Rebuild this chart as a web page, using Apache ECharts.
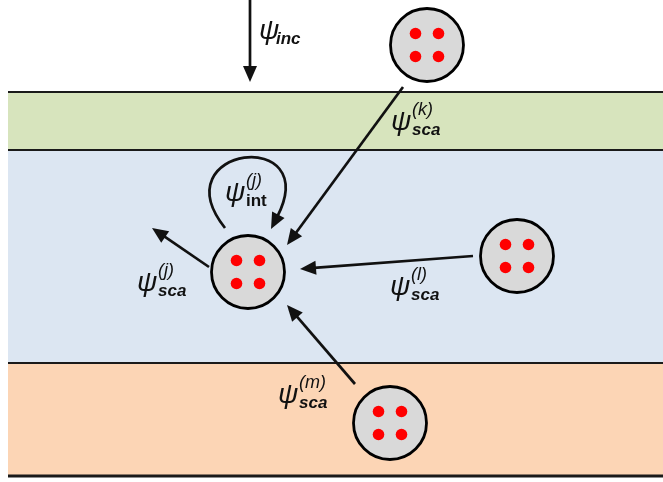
<!DOCTYPE html>
<html>
<head>
<meta charset="utf-8">
<script src="https://cdn.jsdelivr.net/npm/echarts@6/dist/echarts.min.js"></script>
<style>
html,body{margin:0;padding:0;background:#fff;}
#chart{width:663px;height:482px;}
</style>
</head>
<body>
<div id="chart"></div>
<script>
// ---- data (diagram coordinates, y grows downward) ----
const layerNames = ['coating', 'host', 'substrate'];
const layerLeft = [8, 8, 8];
const layerRight = [663, 663, 663];
const layerTop = [92, 150, 363];
const layerBottom = [150, 363, 476];
const boundaryY = [92, 150, 363, 476];

const particleNames = ['k', 'j', 'l', 'm'];
const particleX = [427, 248, 517, 390];
const particleY = [45, 272, 256, 423];

const arrowNames = ['inc', 'k', 'l', 'm', 'j'];
const arrowFromX = [250, 403, 473, 355, 209];
const arrowFromY = [0, 87, 256, 384, 267];
const arrowToX = [250, 287, 300, 287, 152];
const arrowToY = [82, 245, 269, 305, 228];

// self-interaction loop (cubic Bezier: start, control1, control2, end)
const loopX = [225, 160, 324, 271];
const loopY = [228, 146, 126, 229];

const labelX = [259, 391, 225, 137, 390, 278];
const labelY = [31, 122, 193, 283, 287, 395];
const labelSub = ['inc', 'sca', 'int', 'sca', 'sca', 'sca'];
const labelSup = ['', '(k)', '(j)', '(j)', '(l)', '(m)'];

// ---- styles ----
const layerColors = ['#d7e4bd', '#dce6f2', '#fcd5b5'];
const boundaryWidths = [2.2, 2.2, 2.2, 3];
const ink = '#111111';
const FONT = '"Liberation Sans", Arial, sans-serif';

const chart = echarts.init(document.getElementById('chart'), null, {renderer: 'canvas'});

function arrowRender(params, api) {
  const p1 = api.coord([api.value(0), api.value(1)]);
  const p2 = api.coord([api.value(2), api.value(3)]);
  const dx = p2[0] - p1[0], dy = p2[1] - p1[1];
  const len = Math.sqrt(dx * dx + dy * dy);
  const ux = dx / len, uy = dy / len;
  const L = 16, W = 14;
  const bx = p2[0] - ux * L, by = p2[1] - uy * L;
  const nx = -uy, ny = ux;
  return {
    type: 'group',
    children: [
      {type: 'line', shape: {x1: p1[0], y1: p1[1], x2: bx + ux * 2, y2: by + uy * 2},
        style: {stroke: ink, lineWidth: 2.7}},
      {type: 'polygon', shape: {points: [[p2[0], p2[1]], [bx + nx * W / 2, by + ny * W / 2], [bx - nx * W / 2, by - ny * W / 2]]},
        style: {fill: ink}}
    ]
  };
}

const option = {
  animation: false,
  backgroundColor: '#ffffff',
  grid: {left: 0, right: 0, top: 0, bottom: 0},
  xAxis: {type: 'value', min: 0, max: 663, show: false},
  yAxis: {type: 'value', min: 0, max: 482, inverse: true, show: false},
  series: [
    {
      type: 'custom', name: 'layers', silent: true,
      data: layerTop.map((t, i) => [layerLeft[i], t, layerRight[i], layerBottom[i], i]),
      renderItem: function (params, api) {
        const a = api.coord([api.value(0), api.value(1)]);
        const b = api.coord([api.value(2), api.value(3)]);
        return {type: 'rect', shape: {x: a[0], y: a[1], width: b[0] - a[0], height: b[1] - a[1]},
          style: {fill: layerColors[api.value(4)]}};
      }
    },
    {
      type: 'custom', name: 'boundaries', silent: true,
      data: boundaryY.map((y, i) => [layerLeft[0], y, layerRight[0], i]),
      renderItem: function (params, api) {
        const a = api.coord([api.value(0), api.value(1)]);
        const b = api.coord([api.value(2), api.value(1)]);
        return {type: 'line', shape: {x1: a[0], y1: a[1], x2: b[0], y2: b[1]},
          style: {stroke: '#1a1a1a', lineWidth: boundaryWidths[api.value(3)]}};
      }
    },
    {
      type: 'custom', name: 'arrows', silent: true,
      data: arrowNames.map((n, i) => [arrowFromX[i], arrowFromY[i], arrowToX[i], arrowToY[i]]),
      renderItem: arrowRender
    },
    {
      type: 'custom', name: 'loop', silent: true,
      data: [[loopX[0], loopY[0], loopX[1], loopY[1], loopX[2], loopY[2], loopX[3], loopY[3]]],
      renderItem: function (params, api) {
        const p0 = api.coord([api.value(0), api.value(1)]);
        const c1 = api.coord([api.value(2), api.value(3)]);
        const c2 = api.coord([api.value(4), api.value(5)]);
        const p3 = api.coord([api.value(6), api.value(7)]);
        const dx = p3[0] - c2[0], dy = p3[1] - c2[1];
        const len = Math.sqrt(dx * dx + dy * dy);
        const ux = dx / len, uy = dy / len, nx = -uy, ny = ux;
        const L = 16, W = 14;
        const bx = p3[0] - ux * L, by = p3[1] - uy * L;
        return {
          type: 'group',
          children: [
            {type: 'bezierCurve', shape: {x1: p0[0], y1: p0[1], cpx1: c1[0], cpy1: c1[1], cpx2: c2[0], cpy2: c2[1], x2: bx + ux * 3, y2: by + uy * 3},
              style: {stroke: ink, lineWidth: 2.7, fill: null}},
            {type: 'polygon', shape: {points: [[p3[0], p3[1]], [bx + nx * W / 2, by + ny * W / 2], [bx - nx * W / 2, by - ny * W / 2]]},
              style: {fill: ink}}
          ]
        };
      }
    },
    {
      type: 'custom', name: 'particles', silent: true,
      data: particleNames.map((n, i) => [particleX[i], particleY[i]]),
      renderItem: function (params, api) {
        const c = api.coord([api.value(0), api.value(1)]);
        const R = 36.5, d = 11.5, r = 5.8;
        const dots = [[-d, -d], [d, -d], [-d, d], [d, d]].map(o => ({
          type: 'circle', shape: {cx: c[0] + o[0], cy: c[1] + o[1], r: r}, style: {fill: '#ff0000'}
        }));
        return {
          type: 'group',
          children: [{type: 'circle', shape: {cx: c[0], cy: c[1], r: R}, style: {fill: '#d9d9d9', stroke: '#000', lineWidth: 2.8}}].concat(dots)
        };
      }
    },
    {
      type: 'custom', name: 'labels', silent: true,
      data: labelX.map((x, i) => [x, labelY[i], i]),
      renderItem: function (params, api) {
        const p = api.coord([api.value(0), api.value(1)]);
        const i = api.value(2);
        const isInt = labelSub[i] === 'int';
        const children = [
          {type: 'text', style: {text: 'ψ', x: p[0], y: p[1], fill: ink, font: 'italic 28px ' + FONT, align: 'left', verticalAlign: 'middle'}},
          {type: 'text', style: {text: labelSub[i], x: p[0] + (labelSup[i] ? 21 : 17), y: p[1] + 8, fill: ink,
            font: (isInt ? 'bold ' : 'italic bold ') + '17px ' + FONT, align: 'left', verticalAlign: 'middle'}}
        ];
        if (labelSup[i]) {
          children.push({type: 'text', style: {text: labelSup[i], x: p[0] + 21, y: p[1] - 12, fill: ink,
            font: 'italic 18px ' + FONT, align: 'left', verticalAlign: 'middle'}});
        }
        return {type: 'group', children: children};
      }
    }
  ]
};
chart.setOption(option);
</script>
</body>
</html>
